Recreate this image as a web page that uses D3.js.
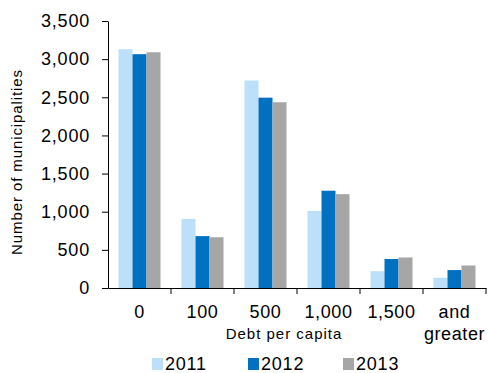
<!DOCTYPE html>
<html>
<head>
<meta charset="utf-8">
<script src="https://cdn.jsdelivr.net/npm/d3@7"></script>
<style>
  body { margin: 0; background: #fff; }
  text { font-family: "Liberation Sans", Arial, sans-serif; fill: #000; }
</style>
</head>
<body>
<script>
var categories = ['0', '100', '500', '1,000', '1,500', 'and greater'];
var years = ['2011', '2012', '2013'];
var v2011 = [3130, 905, 2720, 1010, 220, 135];
var v2012 = [3065, 680, 2495, 1275, 380, 235];
var v2013 = [3090, 665, 2435, 1230, 400, 295];
var yTicks = [0, 500, 1000, 1500, 2000, 2500, 3000, 3500];
var colors = ['#bde0fa', '#0070c0', '#a6a6a6'];

var series = [v2011, v2012, v2013];

var svg = d3.select('body').append('svg')
    .attr('width', 488)
    .attr('height', 373);

var x = d3.scaleBand().domain(categories).range([108, 486]);
var x1 = d3.scaleBand().domain(years).range([10.5, 52.5]);
var y = d3.scaleLinear().domain([0, 3500]).range([288, 21]);
var color = d3.scaleOrdinal().domain(years).range(colors);

// bars
var groups = svg.selectAll('g.grp')
    .data(categories)
    .enter().append('g')
    .attr('class', 'grp')
    .attr('transform', function(d) { return 'translate(' + x(d) + ',0)'; });

groups.selectAll('rect')
    .data(function(d, i) {
        return years.map(function(yr, j) { return {year: yr, value: series[j][i]}; });
    })
    .enter().append('rect')
    .attr('x', function(d) { return x1(d.year); })
    .attr('width', x1.bandwidth())
    .attr('y', function(d) { return y(d.value); })
    .attr('height', function(d) { return y(0) - y(d.value); })
    .attr('fill', function(d) { return color(d.year); });

// y axis
var yAxis = svg.append('g')
    .attr('transform', 'translate(108,0)')
    .call(d3.axisLeft(y).tickValues(yTicks).tickFormat(d3.format(',')).tickSize(6).tickSizeOuter(0).tickPadding(12));
yAxis.selectAll('text').style('font-size', '18px').attr('letter-spacing', '0.8px');
yAxis.selectAll('line, path').attr('stroke', '#000');

// x axis: labels at band centres, ticks at band edges
var xAxis = svg.append('g')
    .attr('transform', 'translate(0,288)')
    .call(d3.axisBottom(x).tickSize(0).tickSizeOuter(0).tickPadding(0).tickFormat(''));
xAxis.select('path').attr('stroke', '#000');

var edges = categories.map(function(c) { return x(c); }).concat([x.range()[1]]);
xAxis.selectAll('line.edge')
    .data(edges.slice(1))
    .enter().append('line')
    .attr('class', 'edge')
    .attr('x1', function(d) { return d; })
    .attr('x2', function(d) { return d; })
    .attr('y1', 0)
    .attr('y2', 6)
    .attr('stroke', '#000');

var xl = svg.selectAll('text.xlab')
    .data(categories)
    .enter().append('text')
    .attr('class', 'xlab')
    .attr('text-anchor', 'middle')
    .style('font-size', '18px')
    .attr('letter-spacing', '0.6px');
xl.each(function(d) {
    var parts = d.split(' ');
    var t = d3.select(this);
    parts.forEach(function(p, i) {
        t.append('tspan')
            .attr('x', x(d) + x.bandwidth() / 2)
            .attr('y', 318 + i * 21.5)
            .text(p);
    });
});

svg.append('text')
    .attr('x', 284)
    .attr('y', 339)
    .attr('text-anchor', 'middle')
    .style('font-size', '15px')
    .attr('letter-spacing', '1px')
    .text('Debt per capita');

svg.append('text')
    .attr('transform', 'translate(22,162) rotate(-90)')
    .attr('text-anchor', 'middle')
    .style('font-size', '15px')
    .attr('letter-spacing', '0.9px')
    .text('Number of municipalities');

// legend
var legX = [152, 248, 343];
var leg = svg.selectAll('g.leg')
    .data(years)
    .enter().append('g')
    .attr('class', 'leg')
    .attr('transform', function(d, i) { return 'translate(' + legX[i] + ',358)'; });
leg.append('rect')
    .attr('width', 11)
    .attr('height', 12)
    .attr('fill', function(d) { return color(d); });
leg.append('text')
    .attr('x', 13)
    .attr('y', 12)
    .style('font-size', '18px')
    .attr('letter-spacing', '0.8px')
    .text(function(d) { return d; });
</script>
</body>
</html>
